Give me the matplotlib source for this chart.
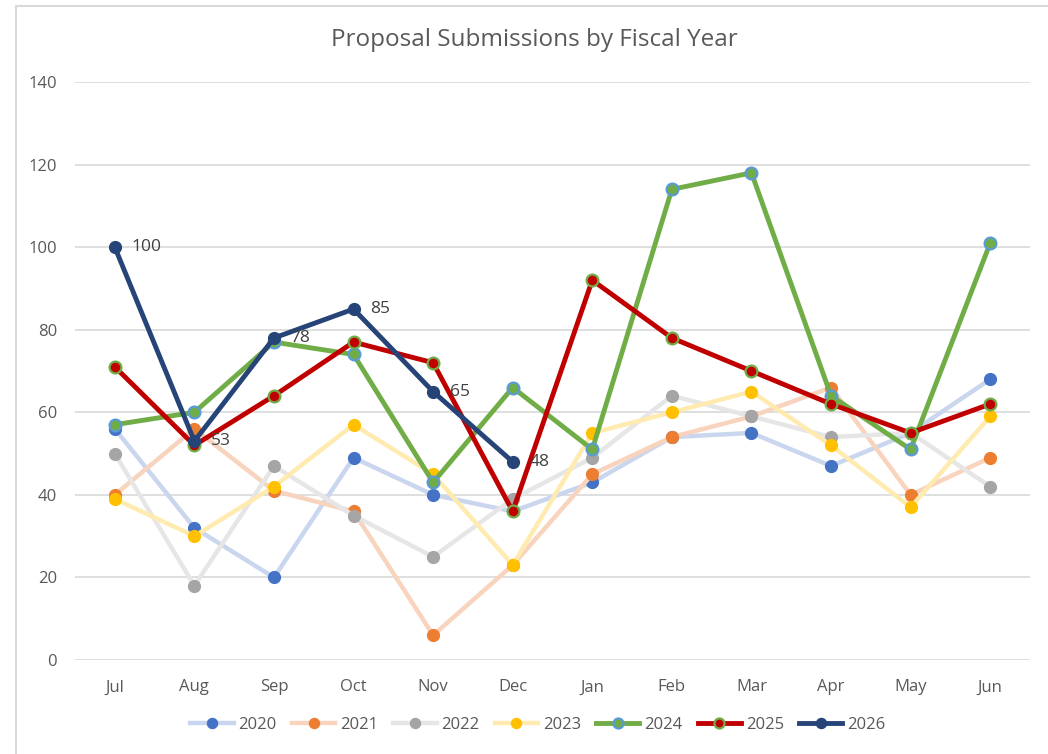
import matplotlib
matplotlib.use("Agg")
import matplotlib.pyplot as plt
from matplotlib.patches import Rectangle

plt.rcParams['font.family'] = ['Open Sans', 'DejaVu Sans']

# Monate des Fiskaljahres
months = ["Jul", "Aug", "Sep", "Oct", "Nov", "Dec",
          "Jan", "Feb", "Mar", "Apr", "May", "Jun"]

fy2020 = [56, 32, 20, 49, 40, 36, 43, 54, 55, 47, 55, 68]
fy2021 = [40, 56, 41, 36, 6, 23, 45, 54, 59, 66, 40, 49]
fy2022 = [50, 18, 47, 35, 25, 39, 49, 64, 59, 54, 55, 42]
fy2023 = [39, 30, 42, 57, 45, 23, 55, 60, 65, 52, 37, 59]
fy2024 = [57, 60, 77, 74, 43, 66, 51, 114, 118, 64, 51, 101]
fy2025 = [71, 52, 64, 77, 72, 36, 92, 78, 70, 62, 55, 62]
fy2026 = [100, 53, 78, 85, 65, 48]

x = list(range(len(months)))

fig = plt.figure(figsize=(10.48, 7.54), dpi=100)
ax = fig.add_axes([75/1048, 1-660/754, 955/1048, 578/754])

# Rahmen um das Diagramm (wie in Excel)
fig.patches.append(Rectangle((16/1048, -0.01), 1.1, 1 - 6/754 + 0.01,
                             transform=fig.transFigure, fill=False,
                             edgecolor="#d9d9d9", linewidth=1.5))

# ältere Jahre: helle Linien, kräftige Marker
old = [
    ("2020", fy2020, "#c9d6ee", "#4472c4"),
    ("2021", fy2021, "#f8d3bd", "#ed7d31"),
    ("2022", fy2022, "#e6e6e6", "#a5a5a5"),
    ("2023", fy2023, "#ffebb0", "#ffc000"),
]
for name, vals, lc, mc in old:
    ax.plot(x, vals, color=lc, lw=3.2, marker="o", ms=8.5,
            mfc=mc, mec=mc, label=name, zorder=2)

ax.plot(x, fy2024, color="#70ad47", lw=3.5, marker="o", ms=8.5,
        mfc="#70ad47", mec="#5b9bd5", mew=1.6, label="2024", zorder=3)
ax.plot(x, fy2025, color="#c00000", lw=3.5, marker="o", ms=8.5,
        mfc="#c00000", mec="#70ad47", mew=1.6, label="2025", zorder=4)
ax.plot(x[:len(fy2026)], fy2026, color="#264478", lw=3.5, marker="o", ms=8.5,
        mfc="#264478", mec="#264478", label="2026", zorder=5)

for i, v in enumerate(fy2026):
    ax.annotate(str(v), (i, v), xytext=(12, 0), textcoords="offset points",
                va="center", ha="left", fontsize=12.5, color="#404040", zorder=6)

ax.set_xlim(-0.5, 11.5)
ax.set_ylim(0, 140)
ax.set_yticks(range(0, 141, 20))
ax.set_xticks(x)
ax.set_xticklabels(months)
ax.grid(axis="y", color="#d9d9d9", lw=1.2)
ax.set_axisbelow(True)
for s in ax.spines.values():
    s.set_visible(False)
ax.tick_params(length=0, labelsize=12, colors="#595959", pad=14)
ax.tick_params(axis="y", pad=13)

fig.text(534/1048, 1-40/754, "Proposal Submissions by Fiscal Year",
         ha="center", va="center", fontsize=17.5, color="#595959")

ax.legend(loc="center", bbox_to_anchor=(538/1048, 1-725/754),
          bbox_transform=fig.transFigure, ncol=7, frameon=False,
          fontsize=12, labelcolor="#595959", handlelength=2.6,
          columnspacing=0.9, handletextpad=0.3, markerscale=0.85)

fig.savefig("out.png", dpi=100)
